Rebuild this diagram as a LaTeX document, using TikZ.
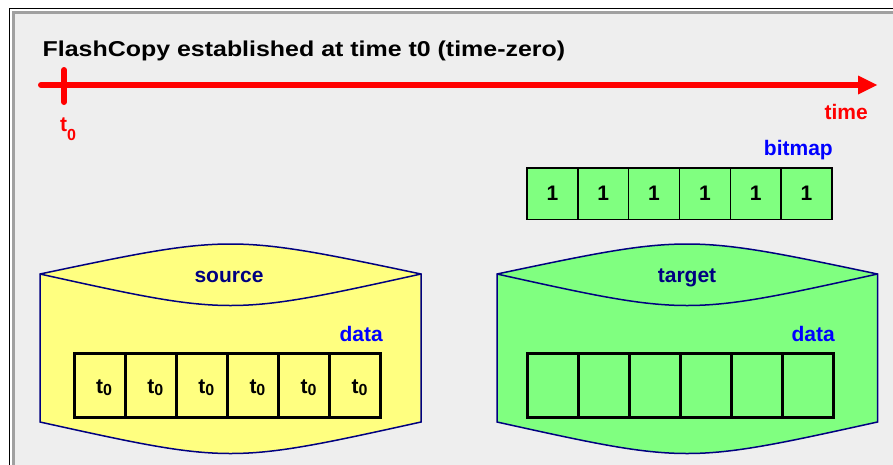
\documentclass[tikz,border=0pt]{standalone}
\usepackage{fontspec}
\setmainfont{Liberation Sans}
\usetikzlibrary{arrows.meta}
\definecolor{bgfill}{HTML}{EEEEEE}
\definecolor{bandgray}{HTML}{A0A0A0}
\definecolor{yellowfill}{HTML}{FFFF80}
\definecolor{greenfill}{HTML}{80FF80}
\definecolor{navyline}{HTML}{000080}
\definecolor{labelblue}{HTML}{0000FF}
\definecolor{timered}{HTML}{FF0000}
\begin{document}
\begin{tikzpicture}[x=1pt,y=-1pt,
  lbl/.style={font=\fontsize{21}{25}\selectfont\bfseries, inner sep=0pt},
  cyl/.style={draw=navyline, line width=1.5pt},
  bitcell/.style={draw=black, line width=1.5pt, fill=greenfill, minimum width=50.8pt, minimum height=51.5pt, inner sep=0pt, outer sep=0pt, font=\fontsize{21}{25}\selectfont\bfseries},
  datacell/.style={draw=black, line width=3pt, minimum width=51pt, minimum height=64pt, inner sep=0pt, outer sep=0pt},
  axis/.style={draw=timered, line width=6pt, line cap=round}
]
\useasboundingbox (0,0) rectangle (893,464);
\fill[white] (0,0) rectangle (893,464);
% frame
\draw[black, line width=1pt] (9.5,8) rectangle (910,480);
\draw[bandgray, line width=3pt, fill=bgfill] (13,12.5) rectangle (910,480);
% title
\node[lbl, font=\fontsize{21.5}{25}\selectfont\bfseries, anchor=base west] (title) at (42.5,56.3) {\scalebox{1.16}[1]{FlashCopy established at time t0 (time-zero)}};
% timeline
\coordinate (tlstart) at (41,85);
\coordinate (tlend) at (877,85);
\draw[axis, -{Triangle[length=19pt,width=19pt,line width=0pt]}] (tlstart) -- (tlend);
\coordinate (ticktop) at (64,70);
\coordinate (tickbot) at (64,102);
\draw[axis] (ticktop) -- (tickbot);
\node[lbl, text=timered, anchor=base west] (tzero) at (60,131.7) {t\raisebox{-9pt}{\fontsize{16}{16}\selectfont 0}};
\node[lbl, text=timered, anchor=base east] (timelbl) at (868,119) {time};
% bitmap
\node[lbl, text=labelblue, anchor=base east] (bitmaplbl) at (833,155) {bitmap};
\foreach \i in {1,...,6} {
  \node[bitcell] (b\i) at ({527+50.83*(\i-0.5)},193.5) {1};
}
% source cylinder
\draw[cyl, fill=yellowfill] (40,274) .. controls (230.5,234) .. (421,274) -- (421,422) .. controls (230.5,464) .. (40,422) -- cycle;
\draw[cyl] (40,274) .. controls (230.5,316) .. (421,274);
\node[lbl, text=navyline, anchor=base] (srclbl) at (229,282) {source};
\node[lbl, text=labelblue, anchor=base east] (srcdata) at (383,341.5) {data};
\foreach \i in {1,...,6} {
  \node[datacell, fill=yellowfill] (s\i) at ({74+51.1*(\i-0.5)},385) {};
  \node[lbl, anchor=base west] (st\i) at ({74+51.1*(\i-1)+22},393.3) {t\raisebox{-2pt}{\fontsize{16}{16}\selectfont 0}};
}
% target cylinder
\draw[cyl, fill=greenfill] (497,274) .. controls (687,234) .. (877.5,274) -- (877.5,422) .. controls (687,464) .. (497,422) -- cycle;
\draw[cyl] (497,274) .. controls (687,316) .. (877.5,274);
\node[lbl, text=navyline, anchor=base] (tgtlbl) at (687,282) {target};
\node[lbl, text=labelblue, anchor=base east] (tgtdata) at (835,341.5) {data};
\foreach \i in {1,...,6} {
  \node[datacell, fill=greenfill] (d\i) at ({527+51*(\i-0.5)},385) {};
}
\end{tikzpicture}
\end{document}
